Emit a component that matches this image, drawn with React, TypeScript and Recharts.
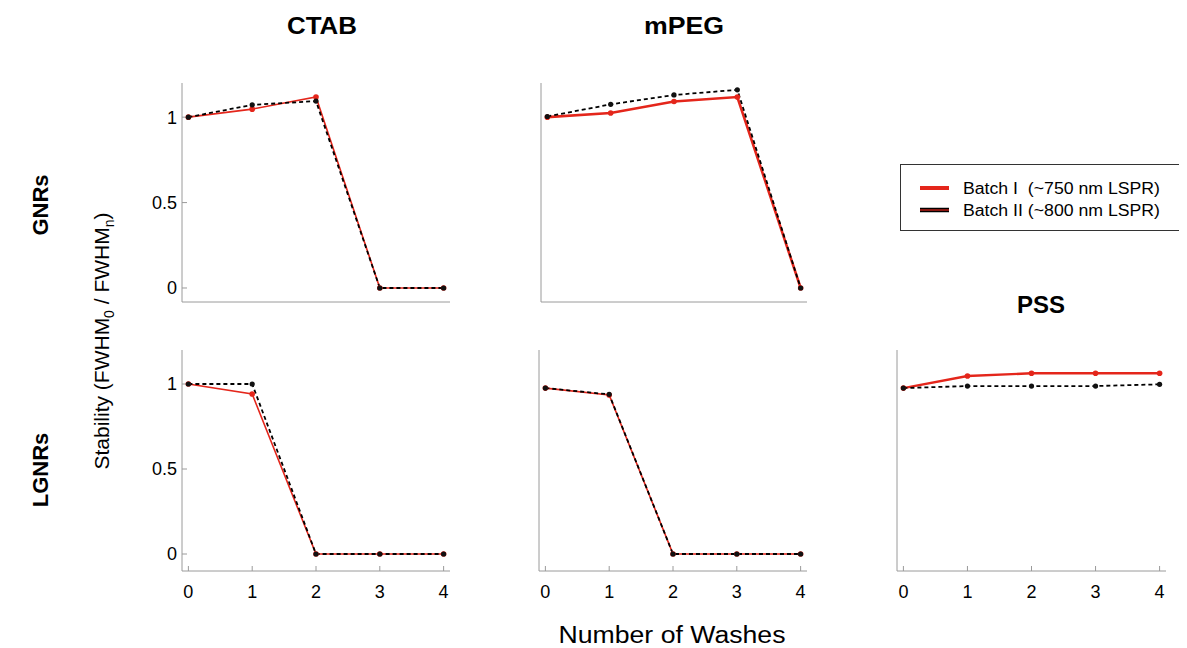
import React from "react";
import { LineChart, Line, XAxis, YAxis } from "recharts";

const washes = [0, 1, 2, 3, 4];
const yTicks = [0, 0.5, 1];

const ctabGnrBatch1 = [1.0, 1.047, 1.118, 0, 0];
const ctabGnrBatch2 = [1.0, 1.072, 1.094, 0, 0];
const mpegGnrBatch1 = [1.0, 1.024, 1.092, 1.118, 0];
const mpegGnrBatch2 = [1.004, 1.075, 1.13, 1.16, 0];
const ctabLgnrBatch1 = [1.0, 0.941, 0, 0, 0];
const ctabLgnrBatch2 = [1.0, 1.0, 0, 0, 0];
const mpegLgnrBatch1 = [0.976, 0.935, 0, 0, 0];
const mpegLgnrBatch2 = [0.976, 0.939, 0, 0, 0];
const pssLgnrBatch1 = [0.976, 1.047, 1.063, 1.063, 1.063];
const pssLgnrBatch2 = [0.976, 0.988, 0.988, 0.988, 0.998];

const RED = "#e4261b";
const FONT = "'Liberation Sans', Arial, Helvetica, sans-serif";

type PanelProps = {
  x: number;
  y: number;
  w: number;
  h: number;
  b1: number[];
  b2: number[];
  yDomain: [number, number];
  showY: boolean;
  showX: boolean;
  redWidth: number;
};

function Panel({ x, y, w, h, b1, b2, yDomain, showY, showX, redWidth }: PanelProps) {
  const data = washes.map((wv, i) => ({ wash: wv, b1: b1[i], b2: b2[i] }));
  const tickStyle = { fill: "#000", fontSize: 18, fontFamily: FONT };
  return (
    <div style={{ position: "absolute", left: x - 40, top: y - 5 }}>
      <LineChart
        width={w + 45}
        height={h + 40}
        data={data}
        margin={{ top: 5, right: 5, bottom: 5, left: 0 }}
      >
        <XAxis
          dataKey="wash"
          type="number"
          domain={[-0.1, 4.1]}
          ticks={washes}
          allowDataOverflow
          height={30}
          stroke="#9a9a9a"
          tickSize={-5}
          tickMargin={19}
          tick={showX ? tickStyle : false}
          interval={0}
        />
        <YAxis
          type="number"
          domain={yDomain}
          ticks={yTicks}
          allowDataOverflow
          width={40}
          stroke="#9a9a9a"
          tickSize={-5}
          tickMargin={10}
          tick={showY ? tickStyle : false}
          interval={0}
        />
        <Line
          dataKey="b1"
          stroke={RED}
          strokeWidth={redWidth}
          dot={{ r: 2.8, fill: RED, stroke: RED, strokeWidth: 0 }}
          isAnimationActive={false}
        />
        <Line
          dataKey="b2"
          stroke="#000"
          strokeWidth={1.8}
          strokeDasharray="4 3"
          dot={{ r: 2.6, fill: "#111", stroke: "#111", strokeWidth: 0 }}
          isAnimationActive={false}
        />
      </LineChart>
    </div>
  );
}

export default function App() {
  const topDomain: [number, number] = [-0.082, 1.2];
  const botDomain: [number, number] = [-0.1, 1.2];
  return (
    <div
      style={{
        position: "relative",
        width: 1187,
        height: 648,
        marginTop: -8,
        marginLeft: -8,
        marginRight: -8,
        marginBottom: 0,
        background: "#fff",
        fontFamily: FONT,
      }}
    >
      <Panel x={182} y={83} w={268} h={219} b1={ctabGnrBatch1} b2={ctabGnrBatch2} yDomain={topDomain} showY showX={false} redWidth={1.6} />
      <Panel x={541} y={83} w={266} h={219} b1={mpegGnrBatch1} b2={mpegGnrBatch2} yDomain={topDomain} showY={false} showX={false} redWidth={2.6} />
      <Panel x={182} y={350} w={268} h={221} b1={ctabLgnrBatch1} b2={ctabLgnrBatch2} yDomain={botDomain} showY showX redWidth={1.6} />
      <Panel x={539} y={350} w={268} h={221} b1={mpegLgnrBatch1} b2={mpegLgnrBatch2} yDomain={botDomain} showY={false} showX redWidth={1.6} />
      <Panel x={897} y={350} w={269} h={221} b1={pssLgnrBatch1} b2={pssLgnrBatch2} yDomain={botDomain} showY={false} showX redWidth={2.4} />

      <svg
        width={1187}
        height={648}
        style={{ position: "absolute", left: 0, top: 0, pointerEvents: "none" }}
        fontFamily={FONT}
      >
        <text x={322} y={34} textAnchor="middle" fontSize={23} fontWeight="bold" textLength={70} lengthAdjust="spacingAndGlyphs">CTAB</text>
        <text x={684} y={34} textAnchor="middle" fontSize={23} fontWeight="bold" textLength={80} lengthAdjust="spacingAndGlyphs">mPEG</text>
        <text x={1041} y={313} textAnchor="middle" fontSize={23} fontWeight="bold" textLength={48} lengthAdjust="spacingAndGlyphs">PSS</text>

        <text transform="translate(48,205) rotate(-90)" textAnchor="middle" fontSize={22} fontWeight="bold">GNRs</text>
        <text transform="translate(48,470) rotate(-90)" textAnchor="middle" fontSize={22} fontWeight="bold">LGNRs</text>

        <text transform="translate(109,341) rotate(-90)" textAnchor="middle" fontSize={21}>
          Stability (FWHM
          <tspan fontSize={14} dy={5}>0</tspan>
          <tspan dy={-5}> / FWHM</tspan>
          <tspan fontSize={14} dy={5}>n</tspan>
          <tspan dy={-5}>)</tspan>
        </text>

        <text x={672} y={643} textAnchor="middle" fontSize={23} textLength={227} lengthAdjust="spacingAndGlyphs">Number of Washes</text>

        <rect x={900.5} y={164.5} width={279} height={66} fill="#fff" stroke="#333" strokeWidth={1} />
        <line x1={920} x2={949} y1={188} y2={188} stroke={RED} strokeWidth={4} />
        <text x={963} y={194} fontSize={16} textLength={197} lengthAdjust="spacingAndGlyphs">{"Batch I\u00a0\u00a0(~750 nm LSPR)"}</text>
        <line x1={920} x2={949} y1={210} y2={210} stroke="#000" strokeWidth={4.5} />
        <line x1={920} x2={949} y1={210} y2={210} stroke={RED} strokeWidth={1.2} />
        <text x={963} y={216} fontSize={16} textLength={197} lengthAdjust="spacingAndGlyphs">Batch II (~800 nm LSPR)</text>
      </svg>
    </div>
  );
}
